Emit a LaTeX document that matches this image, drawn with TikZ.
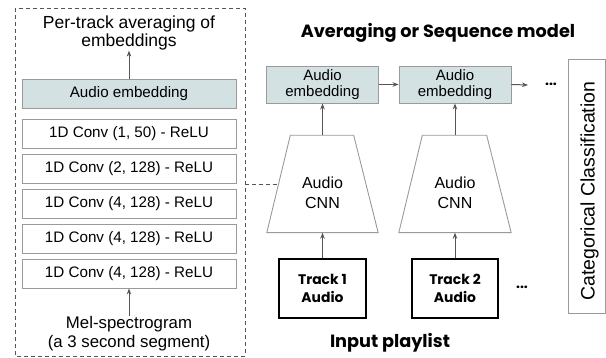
\documentclass[tikz,border=0pt]{standalone}
\usepackage{fontspec}
\setmainfont{Liberation Sans}
\newfontfamily\headfont{Poppins}
\usetikzlibrary{arrows.meta,calc}
\definecolor{embfill}{HTML}{D3E1E3}
\definecolor{edgegrey}{HTML}{9A9A9A}
\definecolor{arrowgrey}{HTML}{555555}
\tikzset{
  txt/.style={align=center, inner sep=0},
  boldtxt/.style={font=\headfont\bfseries\fontsize{14}{18}\selectfont, align=center, inner sep=0},
  layerbox/.style={draw=edgegrey, line width=0.9pt, minimum width=214pt, minimum height=29pt, inner sep=0, font=\fontsize{15.2}{18}\selectfont},
  embbox/.style={draw=edgegrey, fill=embfill, line width=0.9pt, inner sep=0, align=center, font=\fontsize{15}{16.5}\selectfont},
  trapz/.style={draw=edgegrey, line width=0.9pt},
  trackbox/.style={draw=black, line width=1.2pt, minimum height=59pt, inner sep=0, align=center, font=\headfont\bfseries\fontsize{13.9}{18}\selectfont},
  arr/.style={draw=arrowgrey, line width=1pt, -{Stealth[length=6pt,width=4.5pt]}},
  dashline/.style={draw=arrowgrey, line width=0.9pt, dash pattern=on 4pt off 3pt}
}
\begin{document}
\begin{tikzpicture}[x=1pt,y=-1pt]
\useasboundingbox (0,0) rectangle (606,358);

% Left panel: the audio CNN in detail
\draw[dashline] (15,8) rectangle (245,356);
\node[txt, font=\fontsize{17.5}{18.5}\selectfont] (avg) at (129,33) {Per-track averaging of\\embeddings};
\node[layerbox, fill=embfill] (embL) at (129,94) {Audio embedding};
\node[layerbox] (c1) at (129,133.5) {1D Conv (1, 50) - ReLU};
\node[layerbox] (c2) at (129,168.5) {1D Conv (2, 128) - ReLU};
\node[layerbox] (c3) at (129,203.5) {1D Conv (4, 128) - ReLU};
\node[layerbox] (c4) at (129,238.5) {1D Conv (4, 128) - ReLU};
\node[layerbox] (c5) at (129,273.5) {1D Conv (4, 128) - ReLU};
\node[txt, font=\fontsize{16.8}{19}\selectfont] (mel) at (129,333.5) {Mel-spectrogram\\(a 3 second segment)};
\draw[arr] (embL.north) -- (avg.south);
\draw[arr] (mel.north) -- (c5.south);

% Right panel: playlist model
\node[boldtxt, font=\headfont\bfseries\fontsize{17.7}{20}\selectfont] (title) at (438,33) {Averaging or Sequence model};
\node[embbox, minimum width=112pt, minimum height=37pt] (e1) at (322.5,84.5) {Audio\\embedding};
\node[embbox, minimum width=112pt, minimum height=37pt] (e2) at (455,84.5) {Audio\\embedding};
\coordinate (eEnd) at (528,85);
\node[boldtxt] (dotsA) at (551,84) {...};
\draw[arr] (e1.east) -- (e2.west);
\draw[arr] (e2.east) -- (eEnd);

% Audio CNNs as trapezoids, narrow side up
\node[minimum width=111pt, minimum height=97pt, inner sep=0] (cnn1) at (322.5,184) {};
\node[minimum width=112pt, minimum height=97pt, inner sep=0] (cnn2) at (455,184) {};
\foreach \c in {cnn1,cnn2}{
  \draw[trapz] (\c.south west) -- ($(\c.north west)+(23.5,0)$) -- ($(\c.north east)+(-24.5,0)$) -- (\c.south east) -- cycle;
}
\node[txt, font=\fontsize{16}{20}\selectfont] (cnn1txt) at (322.5,192.5) {Audio\\CNN};
\node[txt, font=\fontsize{16}{20}\selectfont] (cnn2txt) at (455,192.5) {Audio\\CNN};
\draw[arr] (cnn1.north) -- (e1.south);
\draw[arr] (cnn2.north) -- (e2.south);

\node[trackbox, minimum width=87pt] (t1) at (322.5,288.5) {Track 1\\Audio};
\node[trackbox, minimum width=86pt] (t2) at (455,288.5) {Track 2\\Audio};
\node[boldtxt] (dotsB) at (522,287) {...};
\draw[arr] (t1.north) -- (cnn1.south);
\draw[arr] (t2.north) -- (cnn2.south);

\node[boldtxt, font=\headfont\bfseries\fontsize{17.7}{20}\selectfont] (inp) at (390,343) {Input playlist};

\node[draw=edgegrey, line width=0.9pt, minimum width=37pt, minimum height=254pt, inner sep=0] (cat) at (586.5,186) {};
\node[rotate=90, font=\fontsize{19.5}{21}\selectfont, inner sep=0] (catT) at (589.5,191) {Categorical Classification};

% Link from the detailed panel to the first CNN
\coordinate (panelR) at (245,184);
\coordinate (cnnL) at ($(cnn1.west)+(11.75,0)$);
\draw[dashline] (panelR) -- (cnnL);
\end{tikzpicture}
\end{document}
